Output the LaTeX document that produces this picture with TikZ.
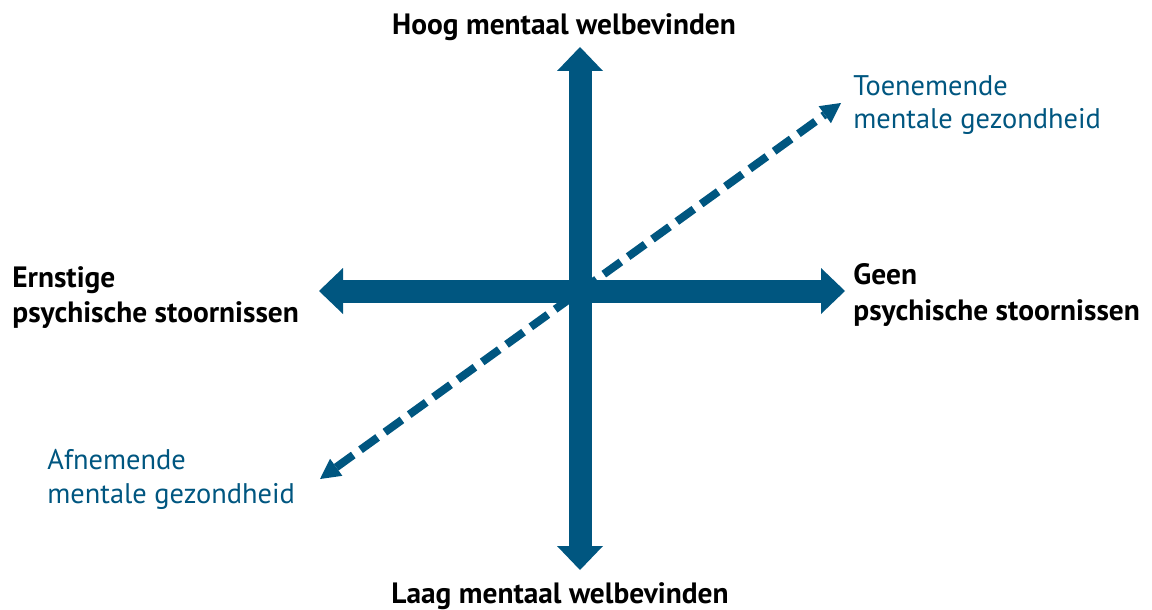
\documentclass[tikz,border=0pt]{standalone}
\usepackage{fontspec}
\setmainfont{PT Sans}
\usetikzlibrary{arrows.meta}
\definecolor{rijksblauw}{RGB}{0,86,128}

\begin{document}
\begin{tikzpicture}[x=0.5pt, y=-0.5pt,
    axis/.style={draw=rijksblauw, line width=11.5pt,
      {Triangle[width=23pt, length=12pt, line width=0pt]}-{Triangle[width=23pt, length=12pt, line width=0pt]}},
    trend/.style={draw=rijksblauw, line width=4pt, dash pattern=on 10.5pt off 4.5pt,
      {Triangle[width=10.5pt, length=10pt, line width=0pt]}-{Triangle[width=10.5pt, length=10pt, line width=0pt]}},
    bold label/.style={font=\fontsize{14.7}{17.5}\selectfont\bfseries, inner sep=0pt, align=left},
    blue label/.style={font=\fontsize{14.2}{17}\selectfont, text=rijksblauw, inner sep=0pt, align=left}]
  \useasboundingbox (0,0) rectangle (1152,610);

  \coordinate (high) at (580,47);
  \coordinate (low) at (580,570);
  \coordinate (severe) at (319,291);
  \coordinate (none) at (845,291);
  \coordinate (decline) at (320,479);
  \coordinate (growth) at (841,103);

  \draw [trend] (decline) -- (growth);
  \draw [axis] (low) -- (high);
  \draw [axis] (severe) -- (none);

  \node [bold label, anchor=base] (hoog) at (564,35) {Hoog mentaal welbevinden};
  \node [bold label, anchor=base] (laag) at (560,603) {Laag mentaal welbevinden};
  \node [bold label, anchor=base west] (ernstig) at (12,322) {Ernstige\\psychische stoornissen};
  \node [bold label, anchor=base west] (geen) at (853,320) {Geen\\psychische stoornissen};

  \node [blue label, anchor=base west] (toename) at (853,129) {Toenemende\\mentale gezondheid};
  \node [blue label, anchor=base west] (afname) at (47,503) {Afnemende\\mentale gezondheid};
\end{tikzpicture}
\end{document}
